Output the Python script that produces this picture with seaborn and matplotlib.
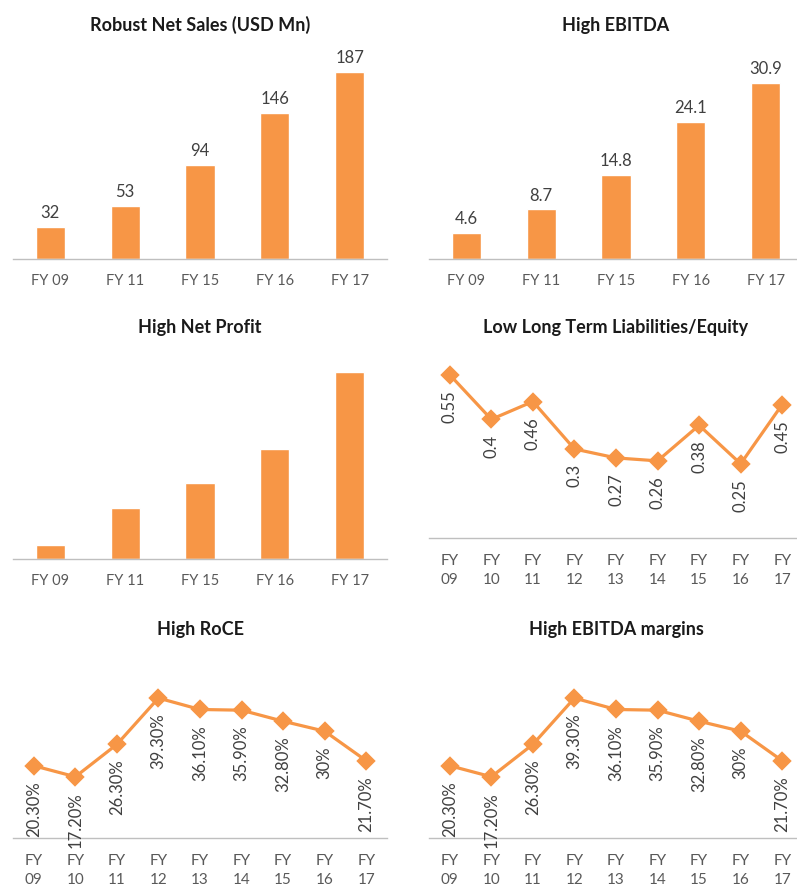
import matplotlib
matplotlib.use("Agg")
import matplotlib.pyplot as plt
import seaborn as sns
import numpy as np

sns.set_theme(style="white")
plt.rcParams['font.family'] = ['Lato', 'DejaVu Sans']

# ---------------- data ----------------
bar_years = ["FY 09", "FY 11", "FY 15", "FY 16", "FY 17"]
net_sales = [32, 53, 94, 146, 187]
ebitda = [4.6, 8.7, 14.8, 24.1, 30.9]
net_profit = [1.4, 5.1, 7.6, 11.0, 18.7]   # no labels in source; estimated heights

line_years = ["FY\n09", "FY\n10", "FY\n11", "FY\n12", "FY\n13", "FY\n14", "FY\n15", "FY\n16", "FY\n17"]
lt_liab_equity = [0.55, 0.4, 0.46, 0.3, 0.27, 0.26, 0.38, 0.25, 0.45]
liab_labels = ["0.55", "0.4", "0.46", "0.3", "0.27", "0.26", "0.38", "0.25", "0.45"]
roce = [20.3, 17.2, 26.3, 39.3, 36.1, 35.9, 32.8, 30.0, 21.7]
roce_labels = ["20.30%", "17.20%", "26.30%", "39.30%", "36.10%", "35.90%", "32.80%", "30%", "21.70%"]
ebitda_margin = [20.3, 17.2, 26.3, 39.3, 36.1, 35.9, 32.8, 30.0, 21.7]
margin_labels = ["20.30%", "17.20%", "26.30%", "39.30%", "36.10%", "35.90%", "32.80%", "30%", "21.70%"]

titles = ["Robust Net Sales (USD Mn)", "High EBITDA", "High Net Profit",
          "Low Long Term Liabilities/Equity", "High RoCE", "High EBITDA margins"]

# ---------------- style ----------------
ORANGE = "#F79646"
TXT = "#404040"
TICK = "#595959"
AXC = "#BFBFBF"
W, H = 797, 888

fig = plt.figure(figsize=(W / 100, H / 100), dpi=100)


def make_ax(left, width, base, top):
    return fig.add_axes([left / W, 1 - base / H, width / W, (base - top) / H])


def style_axis(ax, n, ymax, fs, pad):
    ax.set_xlim(-0.5, n - 0.5)
    ax.set_ylim(0, ymax)
    for s in ["left", "right", "top"]:
        ax.spines[s].set_visible(False)
    ax.spines["bottom"].set_color(AXC)
    ax.spines["bottom"].set_linewidth(1.0)
    ax.set_yticks([])
    ax.set_xticks(np.arange(-0.5, n, 1.0), minor=True)
    ax.tick_params(axis="x", which="minor", length=4, width=1, color=AXC, direction="out")
    ax.tick_params(axis="x", which="major", length=0, labelsize=fs, labelcolor=TICK, pad=pad)
    ax.set_xlabel("")
    ax.set_ylabel("")
    ax.set_facecolor("none")


def bar_panel(ax, cats, vals, ymax, labels=None):
    sns.barplot(x=cats, y=vals, color=ORANGE, saturation=1, width=0.39, ax=ax)
    style_axis(ax, len(cats), ymax, 10.5, 10.5)
    if labels is not None:
        for i, (v, lab) in enumerate(zip(vals, labels)):
            ax.annotate(lab, (i, v), xytext=(0, 4), textcoords="offset points",
                        ha="center", va="bottom", fontsize=12, color=TXT)


def line_panel(ax, cats, vals, labels, ymax):
    sns.pointplot(x=cats, y=vals, color=ORANGE, markers="D", errorbar=None,
                  markersize=8, linewidth=2.3, ax=ax)
    style_axis(ax, len(cats), ymax, 11, 11.5)
    for lbl in ax.get_xticklabels():
        lbl.set_linespacing(1.5)
    for i, (v, lab) in enumerate(zip(vals, labels)):
        ax.annotate(lab, (i, v), xytext=(0, -11), textcoords="offset points",
                    ha="center", va="top", rotation=90, fontsize=12, color=TXT,
                    annotation_clip=False)


ax1 = make_ax(13, 374, 259, 59)
bar_panel(ax1, bar_years, net_sales, 200, [str(v) for v in net_sales])
ax2 = make_ax(429, 374, 259, 59.5)
bar_panel(ax2, bar_years, ebitda, 35, [f"{v:.1f}" for v in ebitda])
ax3 = make_ax(13, 374, 559, 359)
bar_panel(ax3, bar_years, net_profit, 20)
ax4 = make_ax(429, 374, 538, 360)
line_panel(ax4, line_years, lt_liab_equity, liab_labels, 0.6)
ax5 = make_ax(13, 374, 838, 660)
line_panel(ax5, line_years, roce, roce_labels, 50)
ax6 = make_ax(429, 374, 838, 660)
line_panel(ax6, line_years, ebitda_margin, margin_labels, 50)

title_pos = [(200, 25), (616, 26), (200, 327), (616, 328), (200, 630), (616, 630)]
for t, (cx, cy) in zip(titles, title_pos):
    fig.text(cx / W, 1 - cy / H, t, ha="center", va="center", fontsize=13,
             fontweight="bold", color="#1a1a1a")

fig.savefig("out.png", dpi=100, facecolor="white")
